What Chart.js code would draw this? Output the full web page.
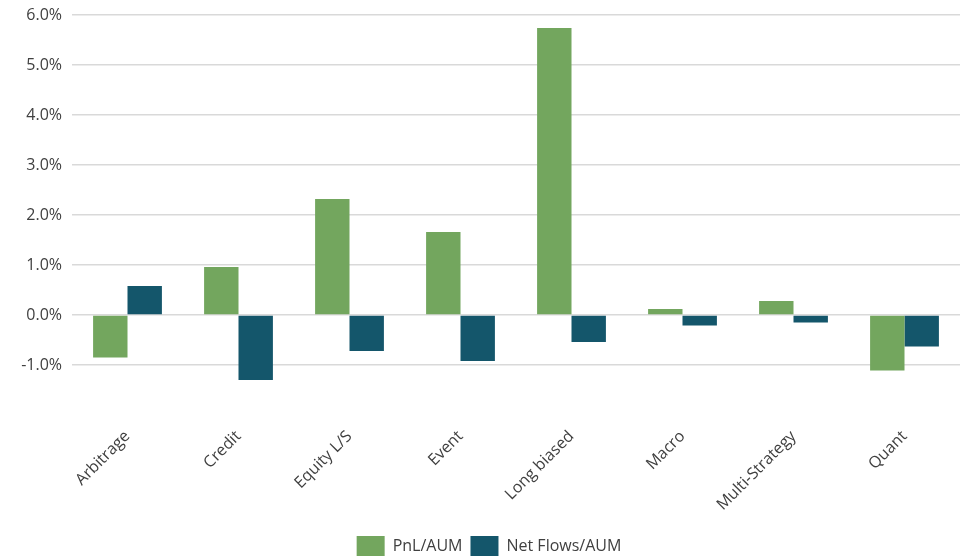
<!DOCTYPE html>
<html>
<head>
<meta charset="utf-8">
<script src="https://cdn.jsdelivr.net/npm/chart.js@4.4.1/dist/chart.umd.min.js"></script>
<style>
  html, body { margin: 0; padding: 0; background: #ffffff; }
  #wrap { width: 963px; height: 558px; position: relative; }
</style>
</head>
<body>
<div id="wrap"><canvas id="chart"></canvas></div>
<script>
// Strategy categories
const strategies = ['Arbitrage', 'Credit', 'Equity L/S', 'Event', 'Long biased', 'Macro', 'Multi-Strategy', 'Quant'];
// Performance over AUM, in percent
const pnlAum = [-0.85, 0.96, 2.32, 1.66, 5.74, 0.12, 0.28, -1.11];
// Net flows over AUM, in percent
const netFlowsAum = [0.58, -1.30, -0.72, -0.92, -0.54, -0.21, -0.15, -0.63];
// Value axis
const yMin = -2;
const yMax = 6;
const yStep = 1;

const tickColor = '#404040';
const fontFamily = '"Open Sans", "Noto Sans", sans-serif';

new Chart(document.getElementById('chart'), {
  type: 'bar',
  data: {
    labels: strategies,
    datasets: [
      { label: 'PnL/AUM', data: pnlAum, backgroundColor: '#73A65E', borderWidth: 0 },
      { label: 'Net Flows/AUM', data: netFlowsAum, backgroundColor: '#14566B', borderWidth: 0 }
    ]
  },
  options: {
    responsive: true,
    maintainAspectRatio: false,
    animation: false,
    layout: { padding: { top: 15, right: 3, left: 18, bottom: -8 } },
    datasets: { bar: { categoryPercentage: 0.62, barPercentage: 1.0 } },
    scales: {
      x: {
        grid: { display: false },
        border: { display: false },
        ticks: {
          color: tickColor,
          font: { family: fontFamily, size: 16 },
          minRotation: 45,
          maxRotation: 45,
          padding: 4
        },
        afterFit: (scale) => {
          scale.height = 113;
          scale.paddingTop = 0; scale.paddingBottom = 0;
          scale.paddingLeft = 0; scale.paddingRight = 0;
        }
      },
      y: {
        min: yMin,
        max: yMax,
        border: { display: false },
        grid: { color: '#d9d9d9', lineWidth: 1.5, drawTicks: false },
        ticks: {
          stepSize: yStep,
          color: tickColor,
          font: { family: fontFamily, size: 16 },
          padding: 10,
          callback: (v) => v.toFixed(1) + '%'
        },
        afterBuildTicks: (scale) => {
          // the lowest bound only leaves room under the bars: no gridline, no label
          scale.ticks = scale.ticks.filter(t => t.value > yMin);
        },
        afterFit: (scale) => {
          scale.width = 54;
          scale.paddingTop = 0; scale.paddingBottom = 0;
        }
      }
    },
    plugins: {
      legend: {
        position: 'bottom',
        labels: {
          boxWidth: 28,
          boxHeight: 20,
          padding: 8,
          color: tickColor,
          font: { family: fontFamily, size: 16 }
        }
      },
      tooltip: { enabled: false }
    }
  }
});
</script>
</body>
</html>
